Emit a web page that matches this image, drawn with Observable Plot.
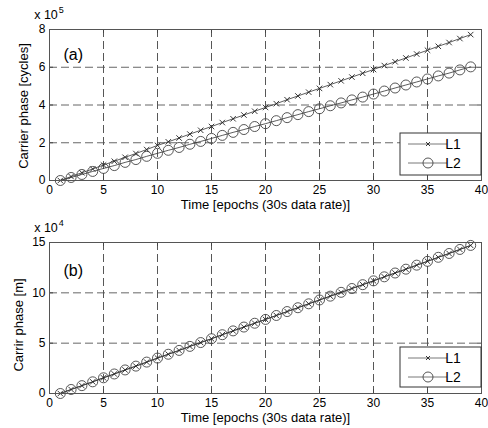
<!DOCTYPE html>
<html>
<head>
<meta charset="utf-8">
<script src="https://cdn.jsdelivr.net/npm/d3@7"></script>
<script src="https://cdn.jsdelivr.net/npm/@observablehq/plot@0.6"></script>
<style>
  html, body { margin: 0; padding: 0; background: #fff; }
  #chart { width: 488px; height: 428px; position: relative; }
  #chart svg { display: block; }
</style>
</head>
<body>
<div id="chart"></div>
<script>
// ---- data ----
const epochs = [1,2,3,4,5,6,7,8,9,10,11,12,13,14,15,16,17,18,19,20,21,22,23,24,25,26,27,28,29,30,31,32,33,34,35,36,37,38,39];
// panel (a): carrier phase in cycles
const aL1 = [0,21000,41000,61000,82000,102000,123000,143000,164000,186000,205000,225000,246000,266000,286000,307000,327000,347000,367000,387000,407000,428000,448000,468000,488000,508000,528000,548000,568000,588000,609000,629000,649000,670000,690000,711000,731000,752000,773000];
const aL2 = [0,16000,32000,48000,64000,79000,96000,111000,128000,144000,160000,175000,192000,207000,223000,239000,255000,270000,286000,301000,317000,333000,349000,365000,380000,396000,411000,427000,442000,458000,474000,490000,506000,522000,538000,554000,569000,586000,602000];
// panel (b): carrier phase in metres
const bL1 = [0,4000,7800,11600,15600,19400,23400,27200,31200,35200,39000,42800,46800,50600,54400,58400,62200,66000,69800,73600,77500,81400,85200,89100,92900,96700,100500,104300,108100,111900,115900,119700,123500,127500,131300,135300,139100,143100,147100];
const bL2 = [0,4000,7800,11600,15600,19400,23400,27200,31200,35200,39000,42800,46800,50600,54400,58400,62200,66000,69800,73600,77500,81400,85200,89100,92900,96700,100500,104300,108100,111900,115900,119700,123500,127500,131300,135300,139100,143100,147100];

const xTicks = [0,5,10,15,20,25,30,35,40];
const yTicksA = [0,200000,400000,600000,800000];
const yTicksB = [0,50000,100000,150000];
const seriesNames = ["L1","L2"];
const xLabel = "Time [epochs (30s data rate)]";
const yLabelA = "Carrier phase [cycles]";
const yLabelB = "Carrir phase [m]";

const FONT = "'Liberation Sans', Arial, Helvetica, sans-serif";

function panel(cfg) {
  const W = 488, H = 214, mL = 49, mR = 7;
  const pw = W - mL - mR, ph = H - cfg.mTop - cfg.mBottom;
  const r1 = epochs.map((e, i) => ({x: e, y: cfg.l1[i]}));
  const r2 = epochs.map((e, i) => ({x: e, y: cfg.l2[i]}));
  const svg = Plot.plot({
    width: W, height: H,
    marginLeft: mL, marginRight: mR, marginTop: cfg.mTop, marginBottom: cfg.mBottom,
    style: {fontFamily: FONT, fontSize: "12px", color: "#000", background: "#fff"},
    x: {domain: [0, 40], ticks: xTicks, tickSize: 0, tickPadding: 5, label: null},
    y: {domain: cfg.yDomain, ticks: cfg.yTicks, tickSize: 0, tickPadding: 4, tickFormat: cfg.fmt, label: null},
    marks: [
      Plot.ruleX(xTicks.slice(1, -1), {stroke: "#444", strokeWidth: 0.9, strokeDasharray: "8,4"}),
      Plot.ruleY(cfg.yTicks.slice(1, -1), {stroke: "#555", strokeWidth: 0.9, strokeDasharray: "8,4"}),
      Plot.tickX(xTicks, {insetTop: ph - 4, stroke: "#444"}),
      Plot.tickX(xTicks, {insetBottom: ph - 4, stroke: "#444"}),
      Plot.tickY(cfg.yTicks, {insetRight: pw - 4, stroke: "#444"}),
      Plot.tickY(cfg.yTicks, {insetLeft: pw - 4, stroke: "#444"}),
      Plot.line(r1, {x: "x", y: "y", stroke: "#333", strokeWidth: 0.8}),
      Plot.line(r2, {x: "x", y: "y", stroke: "#333", strokeWidth: 0.8}),
      Plot.dot(r1, {x: "x", y: "y", symbol: "times", r: 2.6, stroke: "#222", strokeWidth: 0.9}),
      Plot.dot(r2, {x: "x", y: "y", r: 5, stroke: "#444", fill: "none", strokeWidth: 0.9}),
      Plot.frame({stroke: "#555"}),
      Plot.text([cfg.tag], {text: d => d, frameAnchor: "top-left", dx: 14, dy: cfg.tagDy, fontSize: 16, textAnchor: "start"}),
      Plot.text([xLabel], {text: d => d, frameAnchor: "bottom", dy: 28.5, fontSize: 13, textAnchor: "middle"}),
      Plot.text([cfg.yLabel], {text: d => d, frameAnchor: "left", dx: cfg.ylDx, dy: cfg.ylDy, fontSize: 13, rotate: -90, textAnchor: "middle"})
    ]
  });
  const s = d3.select(svg);
  // exponent label
  const ex = s.append("text").attr("x", mL).attr("y", cfg.expY)
    .attr("font-family", FONT).attr("font-size", 12.5).attr("fill", "#000");
  ex.append("tspan").text("x 10");
  ex.append("tspan").attr("font-size", 9).attr("dy", -6).attr("dx", 1).text(cfg.expo);
  // legend
  const lx = W - mR - 81, ly = cfg.legY, lw = 81, lh = cfg.legH;
  const g = s.append("g");
  g.append("rect").attr("x", lx).attr("y", ly).attr("width", lw).attr("height", lh)
    .attr("fill", "#fff").attr("stroke", "#333").attr("stroke-width", 1);
  const rowsY = [ly + 11, ly + 30];
  seriesNames.forEach((name, i) => {
    const yy = rowsY[i];
    g.append("line").attr("x1", lx + 8).attr("x2", lx + 47).attr("y1", yy).attr("y2", yy)
      .attr("stroke", "#555").attr("stroke-width", 0.8);
    const mx = lx + 28;
    if (i === 0) {
      g.append("path").attr("d", `M${mx-2},${yy-2}L${mx+2},${yy+2}M${mx-2},${yy+2}L${mx+2},${yy-2}`)
        .attr("stroke", "#222").attr("stroke-width", 0.9);
    } else {
      g.append("circle").attr("cx", mx).attr("cy", yy).attr("r", 5)
        .attr("fill", "none").attr("stroke", "#444").attr("stroke-width", 0.9);
    }
    g.append("text").attr("x", lx + 53).attr("y", yy).attr("dy", "0.35em")
      .attr("font-family", FONT).attr("font-size", 14).attr("fill", "#000").text(name);
  });
  return svg;
}

const root = document.getElementById("chart");
root.appendChild(panel({
  l1: aL1, l2: aL2, yDomain: [0, 800000], yTicks: yTicksA, fmt: d => d / 100000,
  yLabel: yLabelA, ylDx: -26, ylDy: 1, tag: "(a)", tagDy: 19, expo: "5", expY: 19,
  mTop: 29, mBottom: 34, legY: 133, legH: 42
}));
root.appendChild(panel({
  l1: bL1, l2: bL2, yDomain: [0, 150000], yTicks: yTicksB, fmt: d => d / 10000,
  yLabel: yLabelB, ylDx: -31, ylDy: 7, tag: "(b)", tagDy: 22, expo: "4", expY: 18,
  mTop: 28, mBottom: 35, legY: 133, legH: 40
}));
</script>
</body>
</html>
